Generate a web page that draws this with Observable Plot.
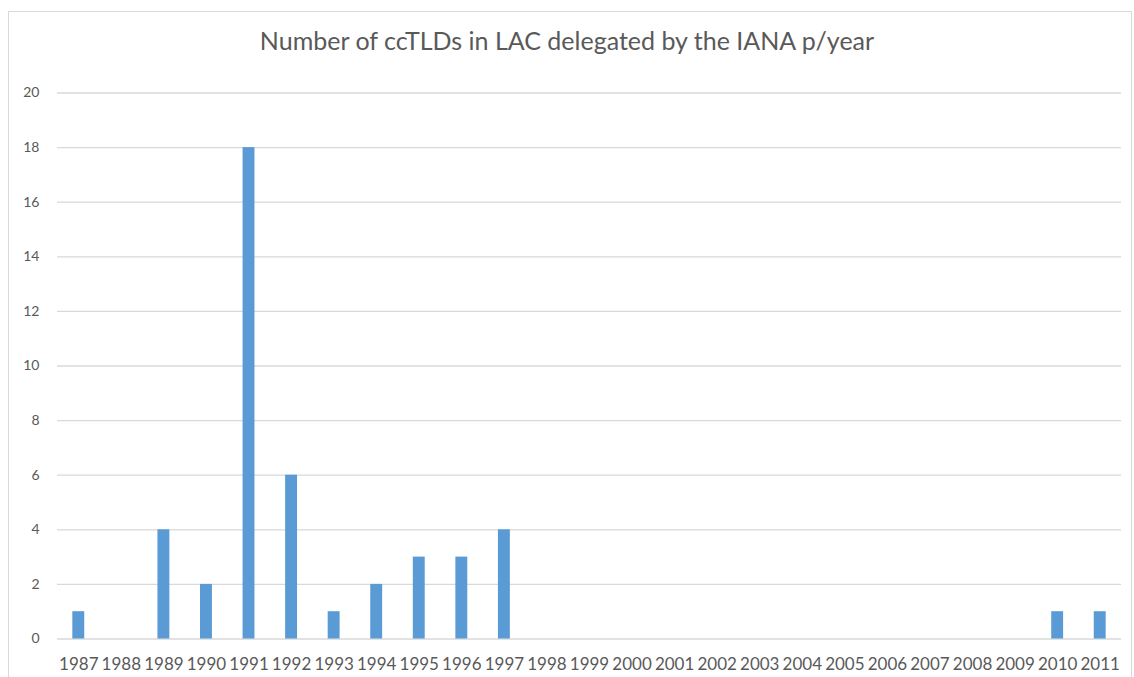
<!DOCTYPE html>
<html>
<head>
<meta charset="utf-8">
<script src="https://cdn.jsdelivr.net/npm/d3@7"></script>
<script src="https://cdn.jsdelivr.net/npm/@observablehq/plot@0.6"></script>
<style>
  html, body { margin: 0; padding: 0; background: #fff; }
  #wrap { position: relative; width: 1134px; height: 677px; overflow: hidden; }
  #frame { position: absolute; left: 8px; top: 11px; width: 1124px; height: 680px; border: 1px solid #D9D9D9; box-sizing: border-box; pointer-events: none; }
  #title { position: absolute; left: 0; top: 23px; width: 1134px; text-align: center; font-family: Lato, "Open Sans", sans-serif; font-size: 25px; color: #595959; line-height: 34px; }
  #chart { position: absolute; left: 0; top: 0; }
</style>
</head>
<body>
<div id="wrap">
  <div id="frame"></div>
  <div id="chart"></div>
  <div id="title">Number of ccTLDs in LAC delegated by the IANA p/year</div>
</div>
<script>
const years = ["1987","1988","1989","1990","1991","1992","1993","1994","1995","1996","1997","1998","1999","2000","2001","2002","2003","2004","2005","2006","2007","2008","2009","2010","2011"];
const counts = [1,0,4,2,18,6,1,2,3,3,4,0,0,0,0,0,0,0,0,0,0,0,0,1,1];
const yTicks = [0,2,4,6,8,10,12,14,16,18,20];

const data = years.map((y, i) => ({year: y, count: counts[i]}));

const chart = Plot.plot({
  width: 1134,
  height: 677,
  marginLeft: 57,
  marginRight: 13,
  marginTop: 92.5,
  marginBottom: 38.5,
  style: {fontFamily: "Lato, 'Open Sans', sans-serif", background: "transparent", color: "#595959"},
  x: {domain: years, paddingInner: 0.72, paddingOuter: 0.36, round: false, label: null},
  y: {domain: [0, 20], label: null},
  marks: [
    Plot.ruleY(yTicks, {stroke: "#D9D9D9", strokeWidth: 1.3}),
    Plot.barY(data, {x: "year", y: "count", fill: "#5B9BD5"}),
    Plot.axisY({ticks: yTicks, tickSize: 0, tickPadding: 18, fontSize: 14, color: "#595959", label: null}),
    Plot.axisX({tickSize: 0, tickPadding: 19, fontSize: 17, color: "#595959", label: null})
  ]
});
document.getElementById("chart").appendChild(chart);
</script>
</body>
</html>
